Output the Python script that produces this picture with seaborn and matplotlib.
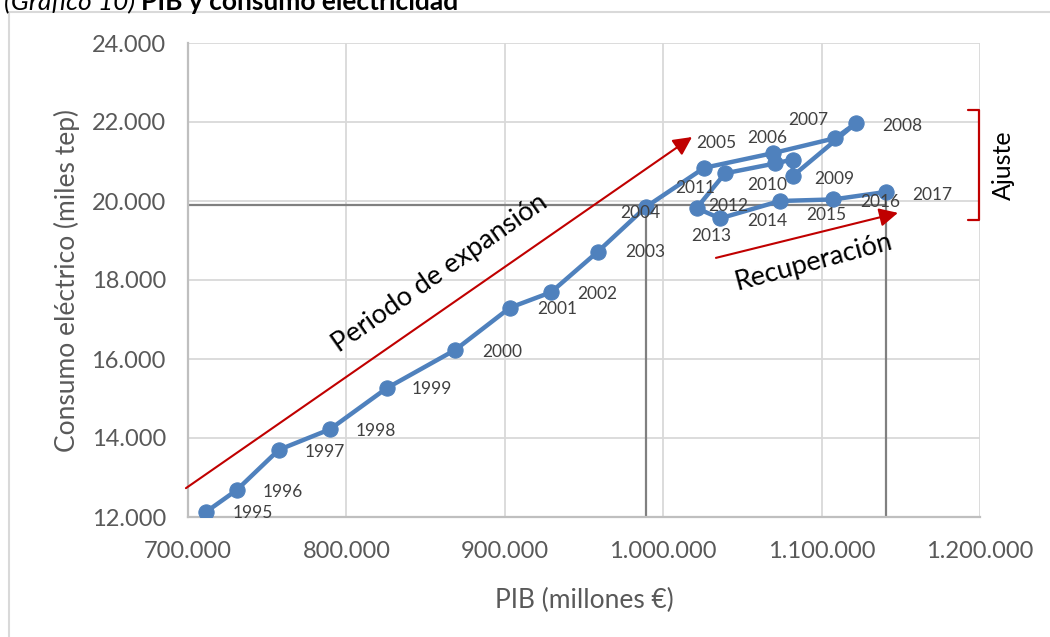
import matplotlib
matplotlib.use("Agg")
import matplotlib.pyplot as plt
import seaborn as sns
import pandas as pd
from matplotlib.patches import Rectangle
from matplotlib.ticker import FuncFormatter

years = list(range(1995, 2018))
pib = [711400, 730700, 757300, 789600, 825400, 868700, 903300, 929200, 958800,
       989100, 1025900, 1069100, 1108500, 1121700, 1081700, 1081700, 1070600,
       1039000, 1021100, 1035900, 1073700, 1107400, 1140700]
consumo = [12130, 12680, 13700, 14220, 15260, 16230, 17300, 17690, 18720,
           19850, 20840, 21210, 21590, 21970, 20630, 21050, 20950,
           20700, 19820, 19560, 20000, 20040, 20230]
# label offsets in pixels (dx, dy) relative to each point
label_dx = [27, 26, 26, 26, 25, 27, 27, 26, 27, -26, -8, -25, -47, 26, 22, -45,
            -100, -17, -5, 27, 26, 27, 26]
label_dy = [-1, -2, -2, -2, -1, -2, -1, -2, 0, -6, 25, 15, 18, -3, -3, -25,
            -25, -33, -28, -3, -14, -3, -3]

df = pd.DataFrame({"PIB": pib, "Consumo": consumo, "Año": years})

sns.set_theme(style="whitegrid")
plt.rcParams["font.family"] = ["Lato", "DejaVu Sans"]

fig = plt.figure(figsize=(10.5, 6.37), dpi=100)
ax = fig.add_axes([188 / 1050, 1 - 517 / 637, (980 - 188) / 1050, (517 - 43) / 637])

blue = "#4f81bd"
red = "#c00000"
grey_txt = "#595959"

# reference lines (behind series)
ax.plot([700000, pib[-1]], [19900, 19900], color="#808080", lw=1.6, zorder=2)
ax.plot([pib[9], pib[9]], [12000, 19900], color="#808080", lw=1.6, zorder=2)
ax.plot([pib[-1], pib[-1]], [12000, consumo[-1]], color="#808080", lw=1.6, zorder=2)

sns.lineplot(data=df, x="PIB", y="Consumo", sort=False, ax=ax, color=blue,
             lw=3.2, marker="o", markersize=11, markeredgecolor=blue,
             markerfacecolor=blue, zorder=3, estimator=None)

for x, y, yr, dx, dy in zip(pib, consumo, years, label_dx, label_dy):
    ax.annotate(str(yr), (x, y), xytext=(dx, dy), textcoords="offset pixels",
                ha="left", va="center", fontsize=12.5, color="#404040", zorder=4)

ax.set_xlim(700000, 1200000)
ax.set_ylim(12000, 24000)
ax.set_xticks(range(700000, 1200001, 100000))
ax.set_yticks(range(12000, 24001, 2000))
fmt = FuncFormatter(lambda v, p: f"{int(v):,}".replace(",", "."))
ax.xaxis.set_major_formatter(fmt)
ax.yaxis.set_major_formatter(fmt)
ax.tick_params(axis="both", labelsize=17, colors=grey_txt, length=0)
ax.tick_params(axis="y", pad=16)
ax.tick_params(axis="x", pad=17)
ax.grid(True, color="#d9d9d9", lw=1.3)
for s in ["top", "right"]:
    ax.spines[s].set_visible(False)
for s in ["left", "bottom"]:
    ax.spines[s].set_color("#bfbfbf")
    ax.spines[s].set_linewidth(1.6)
ax.set_xlabel("PIB (millones €)", fontsize=19, color=grey_txt, labelpad=19)
ax.set_ylabel("Consumo eléctrico (miles tep)", fontsize=19, color=grey_txt, labelpad=8)

# arrows
ax.annotate("", xy=(1018200, 21620), xytext=(698700, 12730),
            arrowprops=dict(arrowstyle="-|>", color=red, lw=1.5, mutation_scale=28,
                            shrinkA=0, shrinkB=0), annotation_clip=False, zorder=5)
ax.annotate("", xy=(1148200, 19700), xytext=(1033300, 18560),
            arrowprops=dict(arrowstyle="-|>", color=red, lw=1.5, mutation_scale=28,
                            shrinkA=0, shrinkB=0), annotation_clip=False, zorder=5)
ax.text(859100, 18180, "Periodo de expansión", rotation=35, rotation_mode="anchor",
        ha="center", va="center", fontsize=19.5, color="black")
ax.text(1095200, 18455, "Recuperación", rotation=15, rotation_mode="anchor",
        ha="center", va="center", fontsize=19.5, color="black")

# bracket
ax.plot([1192400, 1199400, 1199400, 1192400], [22300, 22300, 19520, 19520],
        color=red, lw=1.6, clip_on=False)
fig.text(1003 / 1050, 1 - 165 / 637, "Ajuste", rotation=90, ha="center", va="center",
         fontsize=18, color="black")

# chart frame
fig.add_artist(Rectangle((9 / 1050, -0.1), 1.2, 1 - 12 / 637 + 0.1, transform=fig.transFigure,
                         fill=False, edgecolor="#d9d9d9", lw=1.5))

# title (partially cut at top, as in the original)
t1 = fig.text(4 / 1050, 1 - 10 / 637, "(Gráfico 10) ", fontsize=19, style="italic",
              color="black", ha="left", va="baseline")
fig.canvas.draw()
bb = t1.get_window_extent()
fig.text(bb.x1 / 1050, 1 - 10 / 637, "PIB y consumo electricidad", fontsize=19,
         weight="bold", color="black", ha="left", va="baseline")

fig.savefig("out.png", dpi=100)
